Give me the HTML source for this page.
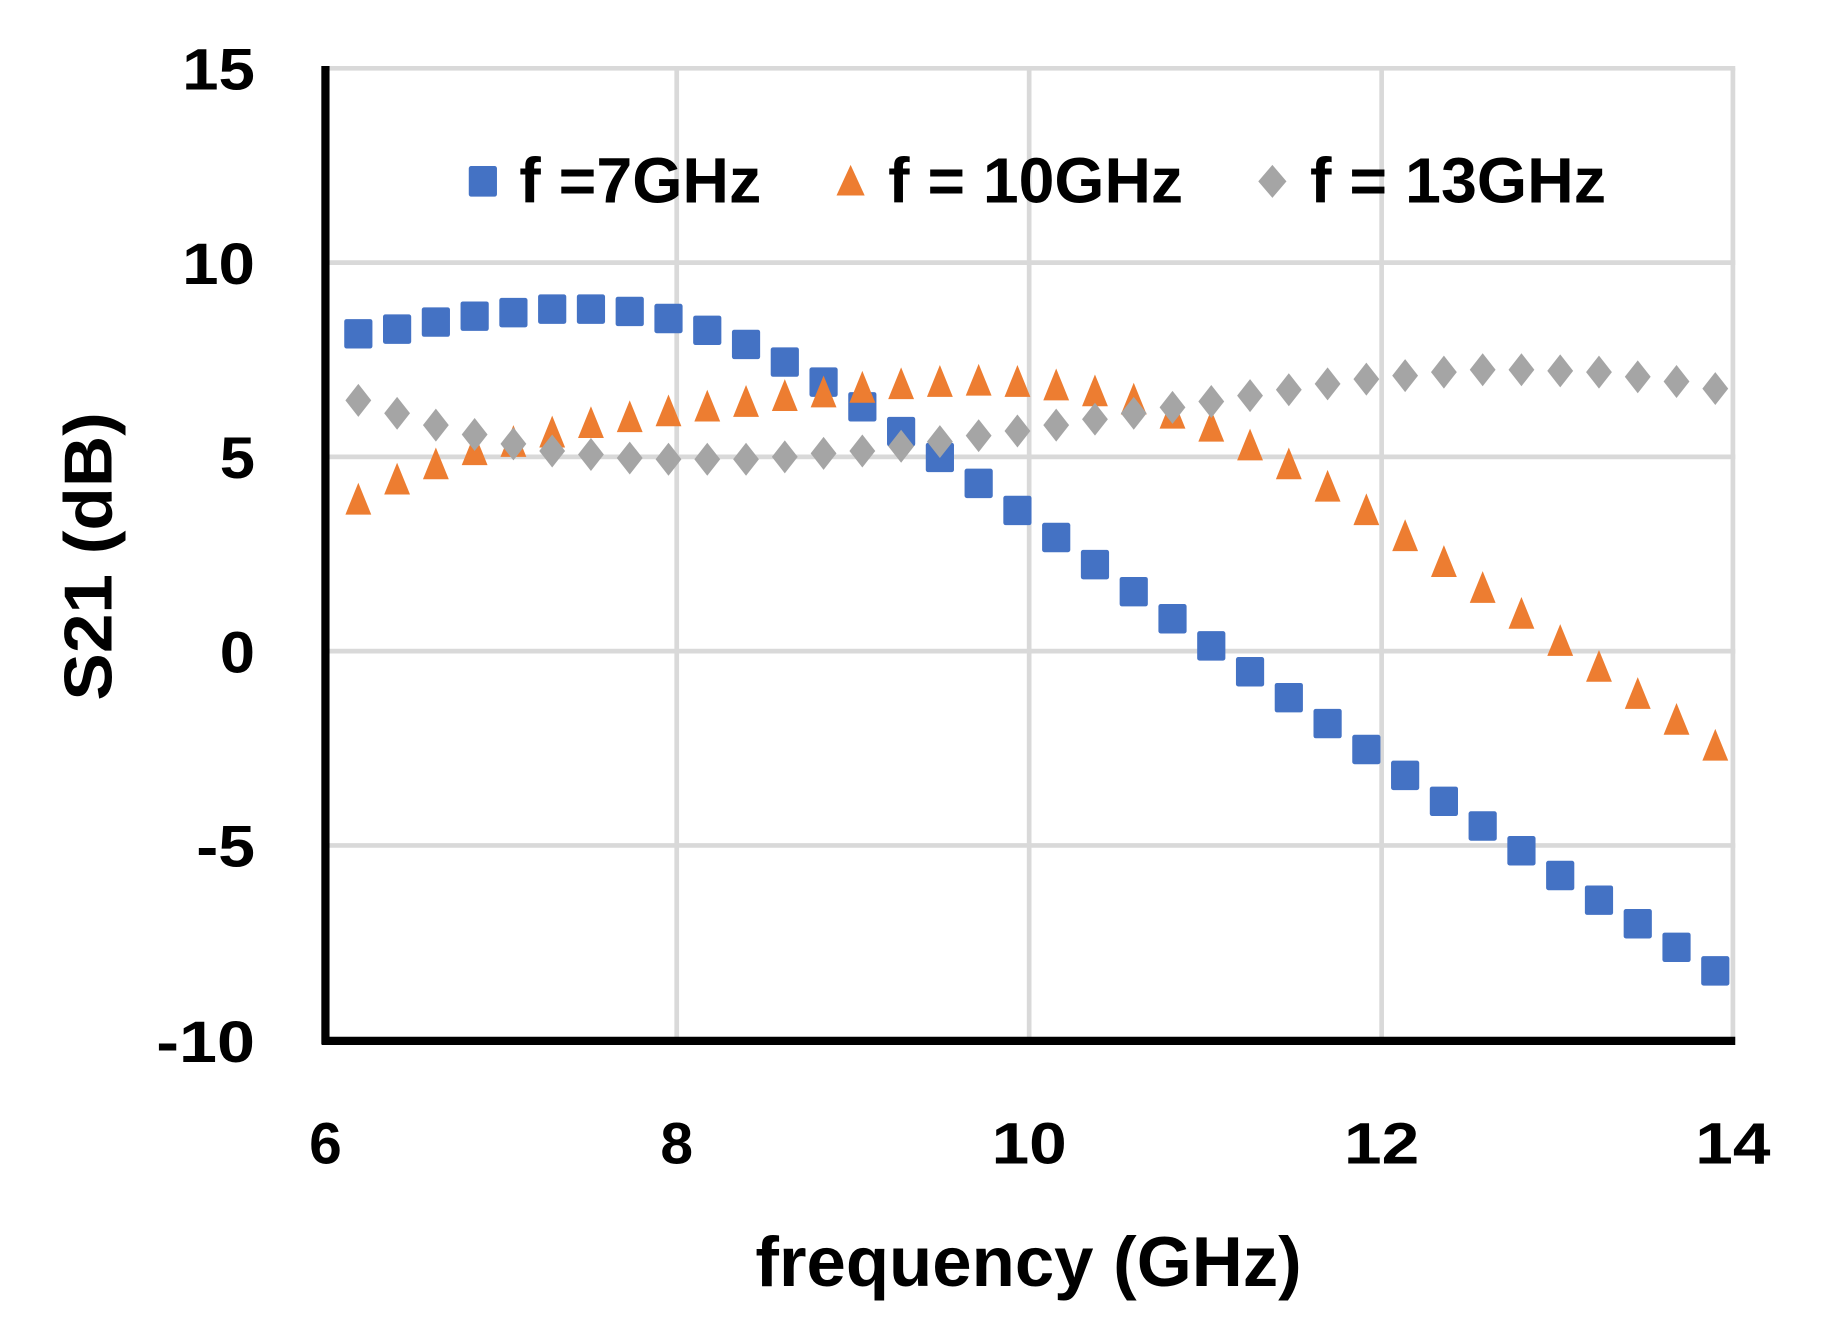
<!DOCTYPE html>
<html><head><meta charset="utf-8"><style>
html,body{margin:0;padding:0;background:#fff;}
svg{display:block;}
text{font-family:"Liberation Sans",sans-serif;font-weight:bold;fill:#000;}
</style></head><body>
<svg id="s" width="1841" height="1340" viewBox="0 0 1567 1138" preserveAspectRatio="none" xmlns="http://www.w3.org/2000/svg">
<rect width="1567" height="1138" fill="#fff"/>
<g stroke="#d9d9d9" stroke-width="4">
<line x1="277" y1="58" x2="1477" y2="58"/>
<line x1="277" y1="223" x2="1477" y2="223"/>
<line x1="277" y1="388" x2="1477" y2="388"/>
<line x1="277" y1="553" x2="1477" y2="553"/>
<line x1="277" y1="718" x2="1477" y2="718"/>
<line x1="576" y1="58" x2="576" y2="884"/>
<line x1="876" y1="58" x2="876" y2="884"/>
<line x1="1176" y1="58" x2="1176" y2="884"/>
<line x1="1475" y1="58" x2="1475" y2="884"/>
</g>
<g id="pts"></g>
<g stroke="#000" stroke-width="7">
<line x1="277" y1="56" x2="277" y2="887"/>
<line x1="274" y1="884" x2="1477" y2="884"/>
</g>
<g font-size="50" text-anchor="end">
<text x="217" y="76" textLength="62" lengthAdjust="spacingAndGlyphs">15</text>
<text x="217" y="241" textLength="62" lengthAdjust="spacingAndGlyphs">10</text>
<text x="217" y="406" textLength="30" lengthAdjust="spacingAndGlyphs">5</text>
<text x="217" y="571" textLength="30" lengthAdjust="spacingAndGlyphs">0</text>
<text x="217" y="736" textLength="50" lengthAdjust="spacingAndGlyphs">-5</text>
<text x="217" y="902" textLength="84" lengthAdjust="spacingAndGlyphs">-10</text>
</g>
<g font-size="50" text-anchor="middle">
<text x="277" y="988">6</text>
<text x="576" y="988">8</text>
<text x="876" y="988" textLength="64" lengthAdjust="spacingAndGlyphs">10</text>
<text x="1176" y="988" textLength="64" lengthAdjust="spacingAndGlyphs">12</text>
<text x="1475" y="988" textLength="64" lengthAdjust="spacingAndGlyphs">14</text>
</g>
<text x="643" y="1092" font-size="60" textLength="465" lengthAdjust="spacingAndGlyphs">frequency (GHz)</text>
<text transform="translate(95,595) rotate(-90)" font-size="58" textLength="245" lengthAdjust="spacingAndGlyphs">S21 (dB)</text>
<g font-size="54">
<rect x="399" y="141" width="24" height="26" rx="2" fill="#4472c4"/>
<text x="442" y="172" textLength="206" lengthAdjust="spacingAndGlyphs">f =7GHz</text>
<path d="M724 140 L736 166 L712 166 Z" fill="#ed7d31"/>
<text x="756" y="172" textLength="251" lengthAdjust="spacingAndGlyphs">f = 10GHz</text>
<path d="M1083 140 L1095 154 L1083 168 L1071 154 Z" fill="#a5a5a5"/>
<text x="1115" y="172" textLength="252" lengthAdjust="spacingAndGlyphs">f = 13GHz</text>
</g>
</svg>
<script>
var B=[283,279,273,268,265,262,262,264,270,280,292,307,324,345,366,388,410,433,456,479,502,525,548,570,592,614,636,658,680,701,722,743,764,784,804,824];
var O=[425,408,395,383,376,368,360,355,350,346,342,337,334,330,327,325,324,325,328,333,340,352,363,379,395,414,434,456,478,500,522,545,567,590,612,634];
var G=[340,351,361,369,377,383,386,389,390,390,390,388,385,383,379,375,370,366,361,356,351,346,341,336,331,326,322,319,316,314,314,315,316,320,324,330];
var h='';
for(var i=0;i<36;i++){var x=305+33*i;
h+='<rect x="'+(x-12)+'" y="'+(B[i]-12)+'" width="24" height="25" rx="2" fill="#4472c4"/>';}
for(var i=0;i<36;i++){var x=305+33*i,y=O[i];
h+='<path d="M'+x+' '+(y-15)+' L'+(x+11)+' '+(y+12)+' L'+(x-11)+' '+(y+12)+' Z" fill="#ed7d31"/>';}
for(var i=0;i<36;i++){var x=305+33*i,y=G[i];
h+='<path d="M'+x+' '+(y-14)+' L'+(x+11)+' '+y+' L'+x+' '+(y+14)+' L'+(x-11)+' '+y+' Z" fill="#a5a5a5"/>';}
document.getElementById('pts').innerHTML=h;
</script>
</body></html>
